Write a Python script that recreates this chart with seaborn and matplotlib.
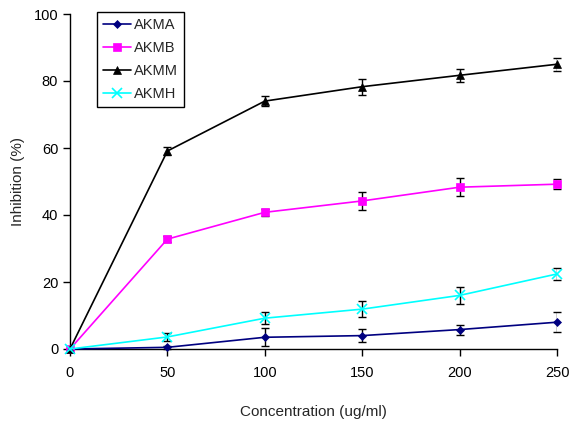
import numpy as np
import pandas as pd
import matplotlib
matplotlib.use("Agg")
import matplotlib.pyplot as plt
import seaborn as sns

# ----------------------------------------------------------------------
# Data
# ----------------------------------------------------------------------
conc = [0, 50, 100, 150, 200, 250]

akma = [0, 0.5, 3.5, 4.0, 5.8, 8.0]
akmb = [0, 32.8, 40.8, 44.2, 48.3, 49.2]
akmm = [0, 59.1, 74.0, 78.3, 81.7, 85.0]
akmh = [0, 3.6, 9.2, 11.9, 16.0, 22.4]

akma_err = [0, 0.5, 2.7, 2.0, 1.5, 3.0]
akmb_err = [0, 1.0, 1.0, 2.6, 2.6, 1.5]
akmm_err = [0, 1.2, 1.5, 2.4, 1.9, 2.0]
akmh_err = [0, 1.3, 1.7, 2.3, 2.5, 1.8]

series_names = ["AKMA", "AKMB", "AKMM", "AKMH"]
colors = ["#000080", "#FF00FF", "#000000", "#00FFFF"]
markers = ["D", "s", "^", "x"]
marker_sizes = [4, 6, 6, 7]

# ----------------------------------------------------------------------
# Plot
# ----------------------------------------------------------------------
sns.set_style("ticks")
plt.rcParams["font.family"] = ["Liberation Sans", "DejaVu Sans"]

fig = plt.figure(figsize=(5.74, 4.25), dpi=100)
ax = fig.add_axes([70 / 574, 1 - 349 / 425, (557 - 70) / 574, (349 - 14) / 425])

values = [akma, akmb, akmm, akmh]
errors = [akma_err, akmb_err, akmm_err, akmh_err]

df = pd.DataFrame({
    "Concentration": np.tile(conc, len(series_names)),
    "Inhibition": np.concatenate(values),
    "Series": np.repeat(series_names, len(conc)),
})

# error bars first so lines/markers sit on top
for vals, errs in zip(values, errors):
    ax.errorbar(conc, vals, yerr=errs, fmt="none", ecolor="black",
                elinewidth=1.0, capsize=3, capthick=1.0, zorder=2)

for name, col, mk, ms in zip(series_names, colors, markers, marker_sizes):
    sub = df[df["Series"] == name]
    sns.lineplot(data=sub, x="Concentration", y="Inhibition", ax=ax,
                 color=col, marker=mk, markersize=ms, linewidth=1.2,
                 markeredgecolor=col, markeredgewidth=1.2 if mk == "x" else 0.5,
                 label=name, zorder=3)

ax.set_xlim(0, 250)
ax.set_ylim(0, 100)
ax.set_xticks(conc)
ax.set_yticks([0, 20, 40, 60, 80, 100])
ax.tick_params(axis="both", direction="out", length=5, width=1,
               labelsize=10.5, colors="black")
ax.tick_params(axis="x", pad=7)
ax.set_xlabel("Concentration (ug/ml)", fontsize=11, labelpad=18)
ax.set_ylabel("Inhibition (%)", fontsize=11, labelpad=6)
ax.spines["top"].set_visible(False)
ax.spines["right"].set_visible(False)
for s in ["left", "bottom"]:
    ax.spines[s].set_color("black")
    ax.spines[s].set_linewidth(1.0)
for line in ax.lines:
    line.set_clip_on(False)

leg = ax.legend(loc="upper left", bbox_to_anchor=(27 / 487, 1.006),
                borderaxespad=0, frameon=True, fancybox=False, framealpha=1,
                edgecolor="black", fontsize=10.5, handlelength=1.9,
                labelspacing=0.62, borderpad=0.4, handletextpad=0.25)
leg.get_frame().set_linewidth(1.0)

fig.savefig("out.png", dpi=100)
